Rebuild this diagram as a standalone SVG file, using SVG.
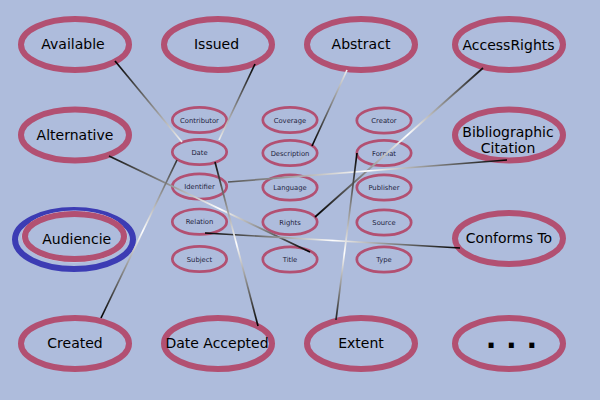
<svg xmlns="http://www.w3.org/2000/svg" width="600" height="400" viewBox="0 0 600 400">
<style>
.bg{fill:#aebcdc}
.big ellipse{fill:none;stroke:#b25072;stroke-width:6}
.sm ellipse{fill:none;stroke:#b25072;stroke-width:2.7}
text{font-family:"DejaVu Sans","Liberation Sans",sans-serif;text-anchor:middle}
.big text{font-size:14px;fill:#000}
.sm text{font-size:6.8px;fill:#1e1e3c}
.big text.dots{font-family:"DejaVu Sans",sans-serif;font-weight:bold;font-size:28px}
#connectors line{stroke-width:1.7;fill:none}
</style>
<defs>
<linearGradient id="g1" gradientUnits="userSpaceOnUse" x1="115" y1="61" x2="182" y2="142"><stop offset="0" stop-color="#000"/><stop offset="1" stop-color="#f2f2f2"/></linearGradient>
<linearGradient id="g2" gradientUnits="userSpaceOnUse" x1="255" y1="64" x2="219" y2="140"><stop offset="0" stop-color="#000"/><stop offset="1" stop-color="#eee"/></linearGradient>
<linearGradient id="g3" gradientUnits="userSpaceOnUse" x1="347" y1="70" x2="312" y2="146"><stop offset="0" stop-color="#eee"/><stop offset="1" stop-color="#000"/></linearGradient>
<linearGradient id="g4" gradientUnits="userSpaceOnUse" x1="483" y1="68" x2="315" y2="217"><stop offset="0" stop-color="#111"/><stop offset="0.45" stop-color="#fff"/><stop offset="1" stop-color="#000"/></linearGradient>
<linearGradient id="g5" gradientUnits="userSpaceOnUse" x1="109" y1="156" x2="310" y2="252"><stop offset="0" stop-color="#111"/><stop offset="0.55" stop-color="#fff"/><stop offset="1" stop-color="#000"/></linearGradient>
<linearGradient id="g6" gradientUnits="userSpaceOnUse" x1="228" y1="182" x2="507" y2="160"><stop offset="0" stop-color="#555"/><stop offset="0.5" stop-color="#fff"/><stop offset="1" stop-color="#000"/></linearGradient>
<linearGradient id="g7" gradientUnits="userSpaceOnUse" x1="205" y1="233" x2="460" y2="248"><stop offset="0" stop-color="#000"/><stop offset="0.5" stop-color="#fff"/><stop offset="1" stop-color="#000"/></linearGradient>
<linearGradient id="g8" gradientUnits="userSpaceOnUse" x1="357" y1="153" x2="336" y2="320"><stop offset="0" stop-color="#000"/><stop offset="0.6" stop-color="#fff"/><stop offset="1" stop-color="#222"/></linearGradient>
<linearGradient id="g9" gradientUnits="userSpaceOnUse" x1="101" y1="318" x2="177" y2="160"><stop offset="0" stop-color="#000"/><stop offset="0.55" stop-color="#fff"/><stop offset="1" stop-color="#333"/></linearGradient>
<linearGradient id="g10" gradientUnits="userSpaceOnUse" x1="215" y1="162" x2="258" y2="326"><stop offset="0" stop-color="#111"/><stop offset="0.5" stop-color="#fff"/><stop offset="1" stop-color="#000"/></linearGradient>
</defs>
<rect class="bg" x="0" y="0" width="600" height="400"/>
<g class="big">
<g id="available"><ellipse cx="75" cy="44.5" rx="54" ry="25.5"/><text x="73" y="49.3">Available</text></g>
<g id="issued"><ellipse cx="218" cy="44.5" rx="54" ry="25.5"/><text x="216.5" y="49.3">Issued</text></g>
<g id="abstract"><ellipse cx="361" cy="44.5" rx="54" ry="25.5"/><text x="361" y="49.3">Abstract</text></g>
<g id="accessrights"><ellipse cx="509" cy="44.5" rx="54" ry="25.5"/><text x="508.5" y="50">AccessRights</text></g>
<g id="alternative"><ellipse cx="75" cy="135" rx="54" ry="25.5"/><text x="75" y="140">Alternative</text></g>
<g id="bibliographic"><ellipse cx="509" cy="135" rx="54" ry="25.5"/><text x="508" y="136.5">Bibliographic</text><text x="508" y="152.7">Citation</text></g>
<g id="audiencie"><ellipse cx="74" cy="239.5" rx="59" ry="29.5" style="stroke:#3c3cb4;stroke-width:6"/><ellipse cx="74.5" cy="236.5" rx="52.5" ry="25.5" style="stroke:#d6dcef;stroke-width:1"/><ellipse cx="74.5" cy="236.5" rx="49.5" ry="22.5"/><text x="76.7" y="244">Audiencie</text></g>
<g id="conformsto"><ellipse cx="509" cy="238.5" rx="54" ry="25.5"/><text x="509" y="243.3">Conforms To</text></g>
<g id="created"><ellipse cx="75" cy="343.5" rx="54" ry="25.5"/><text x="75" y="348.3">Created</text></g>
<g id="dateaccepted"><ellipse cx="218" cy="343.5" rx="54" ry="25.5"/><text x="217" y="348.3">Date Accepted</text></g>
<g id="extent"><ellipse cx="361" cy="343.5" rx="54" ry="25.5"/><text x="361" y="348.3">Extent</text></g>
<g id="more"><ellipse cx="509" cy="343.5" rx="54" ry="25.5"/><text class="dots" x="511.4" y="347.7">. . .</text></g>
</g>
<g class="sm">
<g id="contributor"><ellipse cx="199.5" cy="120" rx="27.2" ry="12.7"/><text x="199.5" y="122.5">Contributor</text></g>
<g id="date"><ellipse cx="199.5" cy="152" rx="27.2" ry="12.7"/><text x="199.5" y="154.5">Date</text></g>
<g id="identifier"><ellipse cx="199.5" cy="186.5" rx="27.2" ry="12.7"/><text x="199.5" y="189">Identifier</text></g>
<g id="relation"><ellipse cx="199.5" cy="221.7" rx="27.2" ry="12.7"/><text x="199.5" y="224.2">Relation</text></g>
<g id="subject"><ellipse cx="199.5" cy="259" rx="27.2" ry="12.7"/><text x="199.5" y="261.5">Subject</text></g>
<g id="coverage"><ellipse cx="290" cy="120" rx="27.2" ry="12.7"/><text x="290" y="122.5">Coverage</text></g>
<g id="description"><ellipse cx="290" cy="153" rx="27.2" ry="12.7"/><text x="290" y="155.5">Description</text></g>
<g id="language"><ellipse cx="290" cy="187.5" rx="27.2" ry="12.7"/><text x="290" y="190">Language</text></g>
<g id="rights"><ellipse cx="290" cy="222" rx="27.2" ry="12.7"/><text x="290" y="224.5">Rights</text></g>
<g id="title"><ellipse cx="290" cy="259.5" rx="27.2" ry="12.7"/><text x="290" y="262">Title</text></g>
<g id="creator"><ellipse cx="384" cy="120.5" rx="27.2" ry="12.7"/><text x="384" y="123">Creator</text></g>
<g id="format"><ellipse cx="384" cy="153" rx="27.2" ry="12.7"/><text x="384" y="155.5">Format</text></g>
<g id="publisher"><ellipse cx="384" cy="187.5" rx="27.2" ry="12.7"/><text x="384" y="190">Publisher</text></g>
<g id="source"><ellipse cx="384" cy="222.5" rx="27.2" ry="12.7"/><text x="384" y="225">Source</text></g>
<g id="type"><ellipse cx="384" cy="259.5" rx="27.2" ry="12.7"/><text x="384" y="262">Type</text></g>
</g>
<g id="connectors">
<line x1="115" y1="61" x2="182" y2="142" stroke="url(#g1)"/>
<line x1="255" y1="64" x2="219" y2="140" stroke="url(#g2)"/>
<line x1="347" y1="70" x2="312" y2="146" stroke="url(#g3)"/>
<line x1="483" y1="68" x2="315" y2="217" stroke="url(#g4)"/>
<line x1="109" y1="156" x2="310" y2="252" stroke="url(#g5)"/>
<line x1="228" y1="182" x2="507" y2="160" stroke="url(#g6)"/>
<line x1="205" y1="233" x2="460" y2="248" stroke="url(#g7)"/>
<line x1="357" y1="153" x2="336" y2="320" stroke="url(#g8)"/>
<line x1="101" y1="318" x2="177" y2="160" stroke="url(#g9)"/>
<line x1="215" y1="162" x2="258" y2="326" stroke="url(#g10)"/>
</g>
</svg>
